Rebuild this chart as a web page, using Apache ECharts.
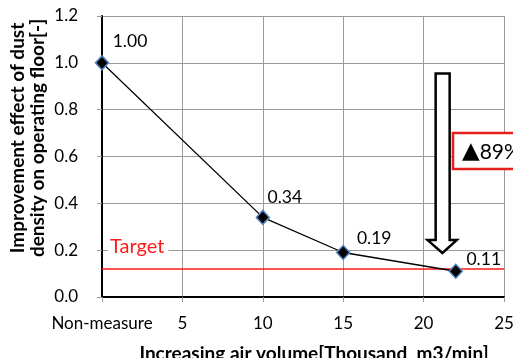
<!DOCTYPE html>
<html>
<head>
<meta charset="utf-8">
<script src="https://cdn.jsdelivr.net/npm/echarts@6/dist/echarts.min.js"></script>
<style>
  html, body { margin: 0; padding: 0; background: #fff; }
  #chart { width: 513px; height: 358px; }
</style>
</head>
<body>
<div id="chart"></div>
<script>
// Air volume (thousand m3/min) and improvement effect of dust density
const airVolume = [0, 10, 15, 22];
const dustEffect = [1.00, 0.34, 0.19, 0.11];
const valueLabels = ['1.00', '0.34', '0.19', '0.11'];
const xTicks = { 0: 'Non-measure', 5: '5', 10: '10', 15: '15', 20: '20', 25: '25' };
const targetLevel = 0.12;
const reductionMark = '\u25B2';
const reductionValue = '89%';

const FONT = 'Lato, "Open Sans", sans-serif';
const GRID_GRAY = '#9a9a9a';

// label offsets next to each marker
const labelOffsets = [[28, -21], [22, -20], [31, -14], [28, -12]];

const chart = echarts.init(document.getElementById('chart'), null, { renderer: 'canvas' });

const points = airVolume.map((x, i) => ({
  value: [x, dustEffect[i]],
  label: { formatter: valueLabels[i], offset: labelOffsets[i] }
}));

chart.setOption({
  animation: false,
  grid: { left: 102, right: 9, top: 16, bottom: 61, outerBoundsMode: 'none', containLabel: false },
  xAxis: [{
    type: 'value', min: 0, max: 25, interval: 5,
    name: 'Increasing air volume[Thousand  m3/min]',
    nameLocation: 'middle', nameGap: 47,
    nameTextStyle: { fontFamily: FONT, fontWeight: 'bold', fontSize: 19, color: '#000', padding: [0, 0, 0, 22] },
    axisLine: { show: true, lineStyle: { color: GRID_GRAY, width: 1 } },
    axisTick: { show: true, length: 5, lineStyle: { color: GRID_GRAY } },
    axisLabel: { formatter: v => xTicks[v] ?? String(v), fontFamily: FONT, fontSize: 17, color: '#000', margin: 18 },
    splitLine: { show: true, lineStyle: { color: GRID_GRAY, width: 1 } }
  }, {
    type: 'value', min: 0, max: 25, position: 'top',
    axisLine: { show: true, lineStyle: { color: '#000', width: 2 } },
    axisTick: { show: false }, axisLabel: { show: false }, splitLine: { show: false }
  }],
  yAxis: [{
    type: 'value', min: 0, max: 1.2, interval: 0.2,
    axisLine: { show: true, lineStyle: { color: GRID_GRAY, width: 1 } },
    axisTick: { show: true, length: 5, lineStyle: { color: GRID_GRAY } },
    axisLabel: { formatter: v => v.toFixed(1), fontFamily: FONT, fontSize: 17, color: '#000', margin: 24 },
    splitLine: { show: true, lineStyle: { color: GRID_GRAY, width: 1 } }
  }, {
    type: 'value', min: 0, max: 1.2, position: 'right',
    axisLine: { show: true, lineStyle: { color: '#000', width: 2 } },
    axisTick: { show: false }, axisLabel: { show: false }, splitLine: { show: false }
  }],
  series: [{
    type: 'line',
    data: points,
    symbol: 'diamond',
    symbolSize: [13, 14],
    itemStyle: { color: '#000', borderColor: '#4f81bd', borderWidth: 1.5 },
    lineStyle: { color: '#000', width: 1.3 },
    label: { show: true, position: 'inside', fontFamily: FONT, fontSize: 17.5, color: '#000' },
    z: 5,
    markLine: {
      silent: true,
      symbol: 'none',
      lineStyle: { color: '#ff1a1a', width: 1.5, type: 'solid' },
      label: {
        show: true, formatter: 'Target', position: 'insideStartTop',
        color: '#ff1a1a', fontFamily: FONT, fontSize: 20,
        backgroundColor: '#fff', padding: [0, 4, 0, 2], distance: [6, 12]
      },
      data: [{ yAxis: targetLevel }]
    }
  }]
});

// hollow down arrow pointing at the last measurement, drawn in axis units
const arrowShape = [
  [20.75, 0.954], [21.62, 0.954], [21.62, 0.243], [22.06, 0.243],
  [21.17, 0.188], [20.25, 0.243], [20.75, 0.243]
];
const arrowPts = arrowShape.map(p => chart.convertToPixel({ gridIndex: 0 }, p));

chart.setOption({
  graphic: [
    {
      type: 'polygon', z: 10,
      shape: { points: arrowPts },
      style: { fill: '#fff', stroke: '#000', lineWidth: 2.5 }
    },
    {
      type: 'rect', z: 20,
      shape: { x: 453, y: 133, width: 80, height: 36 },
      style: { fill: '#fff', stroke: '#e61e1e', lineWidth: 2.5 }
    },
    {
      type: 'text', z: 21, x: 462, y: 152,
      style: {
        text: '{tri|' + reductionMark + '}{num|' + reductionValue + '}',
        textVerticalAlign: 'middle',
        rich: {
          tri: { fontFamily: '"DejaVu Sans", sans-serif', fontSize: 23, fill: '#000', verticalAlign: 'middle' },
          num: { fontFamily: FONT, fontSize: 21, fill: '#000', verticalAlign: 'middle' }
        }
      }
    },
    {
      type: 'text', z: 21, x: 28, y: 138, rotation: Math.PI / 2,
      style: {
        text: 'Improvement effect of dust\ndensity on operating floor[-]',
        fontFamily: FONT, fontWeight: 'bold', fontSize: 19, lineHeight: 20,
        fill: '#000', textAlign: 'center', textVerticalAlign: 'middle'
      }
    }
  ]
});
</script>
</body>
</html>
